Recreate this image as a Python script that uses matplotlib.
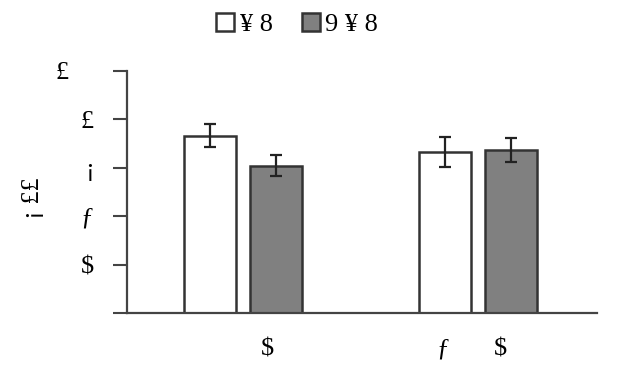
import numpy as np
import matplotlib.pyplot as plt

# data
groups = ["$", "ƒ $"]
series_names = ["¥ 8", "9 ¥ 8"]
white_vals = [3.66, 3.33]
white_err = [0.24, 0.31]
grey_vals = [3.04, 3.37]
grey_err = [0.22, 0.25]
ytick_vals = [0, 1, 2, 3, 4, 5]
ytick_labels = ["", "$", "ƒ", "¡", "£", "£"]
ylabel = "¡ ££"

plt.rcParams["font.family"] = ["Liberation Serif", "DejaVu Serif"]

fig = plt.figure(figsize=(6.18, 3.75), dpi=100)
ax = fig.add_axes([0.2055, 0.165, 0.7605, 0.646])

x = np.arange(len(groups))
w = 0.221
off = 0.140
err_kw = dict(ecolor="#222222", elinewidth=1.6, capsize=4, capthick=1.6)
ax.bar(x - off, white_vals, w, yerr=white_err, color="white", edgecolor="#333333",
       linewidth=1.8, error_kw=err_kw, label=series_names[0])
ax.bar(x + off, grey_vals, w, yerr=grey_err, color="#808080", edgecolor="#333333",
       linewidth=1.8, error_kw=err_kw, label=series_names[1])

ax.set_xlim(-0.494, 1.506)
ax.set_ylim(0, 5)
ax.set_yticks(ytick_vals)
ax.set_yticklabels(ytick_labels, fontsize=19)
ax.tick_params(axis="y", length=10, width=1.5, color="#444444", pad=14)
ax.yaxis.get_major_ticks()[-1].set_pad(32)

# x labels sit off the group centres in the original
ax.set_xticks([0.102, 0.851, 1.094])
ax.set_xticklabels(["$", "ƒ", "$"], fontsize=19)
ax.tick_params(axis="x", length=0, pad=18)

for s in ["top", "right"]:
    ax.spines[s].set_visible(False)
for s in ["left", "bottom"]:
    ax.spines[s].set_color("#444444")
    ax.spines[s].set_linewidth(1.6)

fig.text(33 / 618, 1 - 198 / 375, ylabel, rotation=90, fontsize=19,
         ha="center", va="center")

fig.legend(loc="upper center", bbox_to_anchor=(297 / 618, 1.03), ncol=2,
           frameon=False, fontsize=19, handlelength=0.7, handleheight=0.7,
           handletextpad=0.2, columnspacing=1.1)

fig.savefig("out.png", dpi=100)
